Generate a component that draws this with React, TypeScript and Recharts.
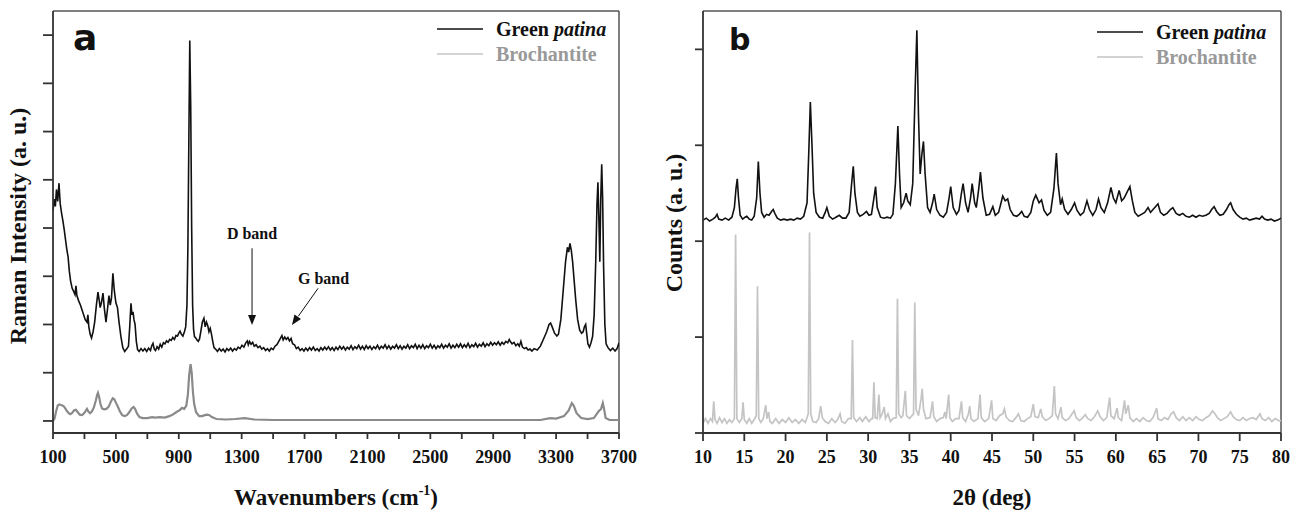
import { LineChart, Line, XAxis, YAxis, ReferenceLine, ReferenceDot } from 'recharts';

type Pt = [number, number];

// Raman spectrum, wavenumber (cm-1) vs intensity (a. u.)
const ramanPatina: Pt[] = [
  [100, 4.35], [108, 4.6], [115, 4.45], [122, 4.8], [130, 4.55], [138, 4.93], [146, 4.5], [155, 4.3],
  [163, 4.15], [172, 3.95], [180, 3.75], [188, 3.55], [196, 3.4], [204, 3.1], [212, 2.9], [222, 2.75],
  [232, 2.68], [240, 2.62], [246, 2.8], [252, 2.6], [262, 2.5], [275, 2.4], [290, 2.25], [305, 2.1],
  [316, 2.05], [322, 2.2], [328, 1.95], [336, 1.8], [345, 1.72], [355, 1.85], [365, 2.05], [376, 2.4],
  [386, 2.67], [394, 2.5], [400, 2.35], [408, 2.45], [418, 2.65], [426, 2.35], [437, 2.05], [446, 2.3],
  [456, 2.6], [464, 2.4], [472, 2.55], [481, 3.06], [490, 2.7], [500, 2.45], [510, 2.35], [520, 2.05],
  [532, 1.75], [544, 1.52], [556, 1.44], [568, 1.49], [580, 1.55], [588, 1.95], [596, 2.44], [602, 2.2],
  [609, 2.26], [615, 2.1], [622, 2.0], [630, 1.65], [638, 1.48], [648, 1.44], [660, 1.5], [672, 1.45],
  [684, 1.5], [696, 1.44], [708, 1.51], [720, 1.46], [728, 1.56], [736, 1.61], [744, 1.49], [752, 1.46],
  [762, 1.54], [772, 1.49], [782, 1.59], [792, 1.53], [802, 1.62], [812, 1.6], [822, 1.66], [832, 1.63],
  [842, 1.69], [852, 1.67], [862, 1.73], [872, 1.69], [882, 1.77], [892, 1.76], [900, 1.82], [908, 1.86],
  [916, 1.8], [926, 1.76], [936, 1.85], [944, 1.95], [952, 2.4], [958, 3.6], [964, 5.8], [970, 7.89],
  [976, 6.5], [982, 4.0], [988, 2.4], [994, 1.9], [1000, 1.75], [1008, 1.72], [1016, 1.68], [1024, 1.65],
  [1032, 1.7], [1040, 1.85], [1050, 2.05], [1060, 2.13], [1068, 1.95], [1076, 2.05], [1084, 1.98],
  [1092, 1.85], [1100, 1.92], [1108, 1.8], [1116, 1.65], [1124, 1.52], [1134, 1.49], [1146, 1.44],
  [1158, 1.5], [1170, 1.45], [1182, 1.49], [1194, 1.43], [1206, 1.5], [1218, 1.46], [1230, 1.51],
  [1242, 1.45], [1254, 1.5], [1266, 1.47], [1278, 1.53], [1290, 1.5], [1302, 1.57], [1314, 1.53],
  [1326, 1.62], [1336, 1.66], [1342, 1.58], [1350, 1.65], [1360, 1.59], [1370, 1.63], [1380, 1.55],
  [1392, 1.58], [1404, 1.52], [1416, 1.55], [1428, 1.49], [1440, 1.52], [1452, 1.46], [1464, 1.5],
  [1476, 1.45], [1488, 1.51], [1500, 1.48], [1512, 1.55], [1524, 1.58], [1536, 1.65], [1548, 1.72],
  [1556, 1.77], [1564, 1.68], [1574, 1.74], [1584, 1.69], [1594, 1.73], [1604, 1.66], [1614, 1.71],
  [1624, 1.6], [1636, 1.58], [1648, 1.5], [1660, 1.53], [1672, 1.46], [1684, 1.5], [1696, 1.45],
  [1708, 1.51], [1720, 1.46], [1732, 1.52], [1744, 1.47], [1756, 1.53], [1768, 1.46], [1780, 1.5],
  [1792, 1.45], [1804, 1.52], [1816, 1.47], [1828, 1.53], [1840, 1.48], [1852, 1.54], [1864, 1.47],
  [1876, 1.52], [1888, 1.46], [1900, 1.53], [1912, 1.48], [1924, 1.55], [1936, 1.49], [1948, 1.54],
  [1960, 1.47], [1972, 1.53], [1984, 1.49], [1996, 1.56], [2008, 1.48], [2020, 1.54], [2032, 1.5],
  [2044, 1.57], [2056, 1.49], [2068, 1.55], [2080, 1.48], [2092, 1.56], [2104, 1.5], [2116, 1.55],
  [2128, 1.48], [2140, 1.54], [2152, 1.5], [2164, 1.57], [2176, 1.49], [2188, 1.55], [2200, 1.51],
  [2212, 1.58], [2224, 1.5], [2236, 1.56], [2248, 1.49], [2260, 1.55], [2272, 1.51], [2284, 1.58],
  [2296, 1.5], [2308, 1.56], [2320, 1.49], [2332, 1.55], [2344, 1.51], [2356, 1.58], [2368, 1.5],
  [2380, 1.56], [2392, 1.52], [2404, 1.59], [2416, 1.5], [2428, 1.57], [2440, 1.51], [2452, 1.58],
  [2464, 1.5], [2476, 1.56], [2488, 1.52], [2500, 1.59], [2512, 1.51], [2524, 1.57], [2536, 1.5],
  [2548, 1.56], [2560, 1.52], [2572, 1.59], [2584, 1.51], [2596, 1.57], [2608, 1.53], [2620, 1.6],
  [2632, 1.51], [2644, 1.57], [2656, 1.52], [2668, 1.59], [2680, 1.53], [2692, 1.6], [2704, 1.52],
  [2716, 1.58], [2728, 1.53], [2740, 1.61], [2752, 1.52], [2764, 1.58], [2776, 1.54], [2788, 1.61],
  [2800, 1.53], [2812, 1.59], [2824, 1.55], [2836, 1.62], [2848, 1.54], [2860, 1.6], [2872, 1.56],
  [2884, 1.63], [2896, 1.57], [2908, 1.62], [2920, 1.58], [2932, 1.64], [2944, 1.57], [2956, 1.63],
  [2968, 1.59], [2980, 1.65], [2992, 1.62], [3002, 1.69], [3010, 1.64], [3020, 1.6], [3032, 1.63],
  [3044, 1.56], [3056, 1.6], [3066, 1.55], [3076, 1.65], [3086, 1.53], [3098, 1.5], [3110, 1.52],
  [3122, 1.47], [3134, 1.49], [3146, 1.45], [3160, 1.5], [3180, 1.47], [3200, 1.55], [3220, 1.7],
  [3240, 1.85], [3255, 2.0], [3265, 2.03], [3275, 1.95], [3290, 1.82], [3305, 1.76], [3315, 1.8],
  [3330, 2.1], [3345, 2.7], [3360, 3.3], [3372, 3.6], [3380, 3.5], [3388, 3.68], [3396, 3.55],
  [3405, 3.3], [3415, 2.9], [3425, 2.5], [3437, 2.1], [3450, 1.88], [3462, 1.82], [3472, 1.85],
  [3480, 1.95], [3488, 2.0], [3495, 1.8], [3502, 1.6], [3512, 1.53], [3522, 1.62], [3532, 1.75],
  [3542, 2.2], [3552, 3.3], [3560, 4.5], [3566, 4.95], [3572, 4.2], [3578, 3.3], [3584, 4.6],
  [3590, 5.32], [3596, 4.6], [3602, 3.2], [3610, 2.0], [3618, 1.6], [3630, 1.52], [3645, 1.46],
  [3660, 1.51], [3675, 1.45], [3688, 1.5], [3700, 1.62],
];

const ramanBrochantite: Pt[] = [
  [100, 0.0], [110, 0.05], [120, 0.2], [130, 0.32], [140, 0.34], [150, 0.33], [160, 0.32], [170, 0.3],
  [180, 0.25], [190, 0.2], [200, 0.16], [210, 0.14], [220, 0.16], [235, 0.22], [246, 0.23], [258, 0.18],
  [270, 0.13], [285, 0.12], [300, 0.17], [316, 0.25], [326, 0.19], [336, 0.16], [348, 0.2], [360, 0.28],
  [372, 0.42], [380, 0.53], [386, 0.58], [393, 0.5], [402, 0.35], [412, 0.26], [425, 0.24], [440, 0.25],
  [455, 0.3], [468, 0.4], [480, 0.47], [490, 0.45], [500, 0.38], [512, 0.3], [525, 0.2], [540, 0.12],
  [555, 0.1], [570, 0.12], [585, 0.18], [600, 0.26], [612, 0.29], [622, 0.25], [635, 0.15], [650, 0.08],
  [670, 0.06], [700, 0.06], [730, 0.08], [750, 0.07], [780, 0.08], [810, 0.07], [840, 0.1], [865, 0.14],
  [888, 0.19], [905, 0.22], [920, 0.27], [935, 0.25], [948, 0.32], [958, 0.55], [966, 0.95], [975, 1.18],
  [982, 1.0], [990, 0.6], [998, 0.35], [1010, 0.18], [1030, 0.1], [1050, 0.1], [1065, 0.12], [1080, 0.13],
  [1095, 0.12], [1110, 0.08], [1140, 0.04], [1200, 0.03], [1260, 0.04], [1320, 0.06], [1380, 0.03],
  [1500, 0.02], [1800, 0.02], [2200, 0.02], [2600, 0.02], [3000, 0.02], [3200, 0.02], [3262, 0.06],
  [3300, 0.05], [3350, 0.1], [3380, 0.22], [3400, 0.37], [3412, 0.32], [3430, 0.16], [3460, 0.06],
  [3500, 0.04], [3540, 0.06], [3560, 0.15], [3575, 0.22], [3585, 0.24], [3597, 0.37], [3605, 0.25],
  [3615, 0.06], [3640, 0.02], [3700, 0.02],
];

// XRD pattern, 2-theta (deg) vs counts (a. u.)
const xrdPatina: Pt[] = [
  [10.0, 2.22], [10.4, 2.24], [10.8, 2.21], [11.2, 2.23], [11.5, 2.25], [11.7, 2.28], [11.9, 2.23],
  [12.3, 2.22], [12.7, 2.24], [13.1, 2.22], [13.5, 2.25], [13.8, 2.35], [14.0, 2.55], [14.15, 2.65],
  [14.3, 2.45], [14.5, 2.27], [14.8, 2.23], [15.1, 2.25], [15.3, 2.26], [15.6, 2.23], [15.9, 2.22],
  [16.2, 2.26], [16.5, 2.45], [16.7, 2.83], [16.9, 2.5], [17.1, 2.3], [17.4, 2.25], [17.7, 2.28],
  [18.0, 2.27], [18.3, 2.31], [18.5, 2.33], [18.7, 2.29], [19.0, 2.24], [19.4, 2.22], [19.8, 2.23],
  [20.2, 2.22], [20.6, 2.23], [21.0, 2.22], [21.4, 2.24], [21.8, 2.23], [22.2, 2.26], [22.6, 2.4],
  [22.8, 2.9], [23.0, 3.45], [23.2, 3.0], [23.4, 2.5], [23.7, 2.3], [24.1, 2.25], [24.5, 2.24],
  [24.8, 2.3], [25.0, 2.35], [25.3, 2.26], [25.7, 2.23], [26.1, 2.25], [26.5, 2.27], [26.9, 2.24],
  [27.3, 2.24], [27.7, 2.3], [28.0, 2.6], [28.2, 2.78], [28.4, 2.5], [28.7, 2.3], [29.0, 2.26],
  [29.4, 2.28], [29.8, 2.31], [30.1, 2.27], [30.4, 2.28], [30.7, 2.45], [30.9, 2.57], [31.1, 2.35],
  [31.5, 2.25], [31.9, 2.24], [32.3, 2.25], [32.7, 2.24], [33.0, 2.28], [33.3, 2.6], [33.6, 3.2],
  [33.8, 2.7], [34.0, 2.35], [34.3, 2.4], [34.6, 2.5], [34.8, 2.42], [35.1, 2.38], [35.4, 2.6],
  [35.7, 3.6], [35.9, 4.2], [36.1, 3.3], [36.3, 2.7], [36.5, 2.9], [36.7, 3.04], [36.9, 2.7],
  [37.2, 2.35], [37.5, 2.3], [37.8, 2.4], [38.0, 2.49], [38.3, 2.33], [38.7, 2.27], [39.1, 2.25],
  [39.5, 2.3], [39.8, 2.45], [40.0, 2.57], [40.3, 2.35], [40.7, 2.28], [41.0, 2.32], [41.3, 2.5],
  [41.5, 2.6], [41.8, 2.4], [42.1, 2.3], [42.4, 2.45], [42.6, 2.6], [42.9, 2.4], [43.1, 2.35],
  [43.4, 2.55], [43.6, 2.72], [43.9, 2.45], [44.3, 2.27], [44.7, 2.28], [45.1, 2.36], [45.4, 2.27],
  [45.8, 2.3], [46.1, 2.4], [46.3, 2.47], [46.6, 2.42], [46.9, 2.44], [47.2, 2.33], [47.6, 2.27],
  [48.0, 2.26], [48.3, 2.28], [48.6, 2.31], [48.9, 2.26], [49.3, 2.25], [49.7, 2.3], [50.0, 2.42],
  [50.3, 2.48], [50.7, 2.4], [51.0, 2.43], [51.3, 2.32], [51.7, 2.27], [52.1, 2.3], [52.5, 2.55],
  [52.8, 2.92], [53.0, 2.6], [53.3, 2.38], [53.5, 2.44], [53.8, 2.33], [54.2, 2.28], [54.6, 2.33],
  [55.0, 2.4], [55.3, 2.32], [55.7, 2.27], [56.1, 2.3], [56.5, 2.42], [56.8, 2.33], [57.2, 2.27],
  [57.6, 2.33], [57.9, 2.44], [58.2, 2.35], [58.6, 2.3], [59.0, 2.4], [59.4, 2.56], [59.7, 2.45],
  [60.0, 2.4], [60.4, 2.53], [60.7, 2.42], [61.0, 2.45], [61.3, 2.5], [61.7, 2.57], [62.0, 2.42],
  [62.3, 2.3], [62.7, 2.26], [63.1, 2.28], [63.5, 2.3], [63.9, 2.35], [64.2, 2.3], [64.5, 2.33],
  [64.8, 2.36], [65.1, 2.39], [65.4, 2.3], [65.8, 2.27], [66.2, 2.29], [66.6, 2.33], [66.9, 2.35],
  [67.3, 2.29], [67.7, 2.27], [68.1, 2.29], [68.5, 2.26], [68.9, 2.25], [69.3, 2.27], [69.7, 2.25],
  [70.1, 2.27], [70.5, 2.26], [70.9, 2.27], [71.3, 2.29], [71.6, 2.33], [71.9, 2.36], [72.2, 2.31],
  [72.6, 2.27], [73.0, 2.28], [73.4, 2.33], [73.7, 2.38], [73.9, 2.4], [74.2, 2.33], [74.6, 2.28],
  [75.0, 2.25], [75.4, 2.23], [75.8, 2.24], [76.2, 2.22], [76.6, 2.23], [77.0, 2.24], [77.4, 2.23],
  [77.7, 2.26], [78.0, 2.23], [78.4, 2.22], [78.8, 2.23], [79.2, 2.21], [79.6, 2.22], [80.0, 2.24],
];

const xrdBrochantite: Pt[] = [
  [10.0, 0.1], [10.3, 0.15], [10.6, 0.1], [10.9, 0.15], [11.15, 0.12], [11.3, 0.33], [11.45, 0.14],
  [11.7, 0.1], [12.0, 0.16], [12.3, 0.11], [12.6, 0.15], [12.9, 0.1], [13.2, 0.14], [13.5, 0.11],
  [13.8, 0.15], [13.95, 2.07], [14.1, 0.15], [14.4, 0.11], [14.7, 0.15], [14.85, 0.32], [15.0, 0.14],
  [15.3, 0.1], [15.6, 0.15], [15.9, 0.1], [16.2, 0.14], [16.45, 0.18], [16.6, 1.53], [16.75, 0.15],
  [17.0, 0.11], [17.3, 0.15], [17.6, 0.29], [17.75, 0.15], [17.95, 0.22], [18.1, 0.12], [18.4, 0.1],
  [18.8, 0.15], [19.2, 0.1], [19.6, 0.14], [20.0, 0.11], [20.4, 0.16], [20.8, 0.11], [21.2, 0.14],
  [21.6, 0.1], [22.0, 0.14], [22.4, 0.11], [22.75, 0.2], [22.9, 2.09], [23.05, 0.2], [23.3, 0.12],
  [23.7, 0.11], [24.0, 0.15], [24.25, 0.28], [24.45, 0.16], [24.8, 0.12], [25.2, 0.1], [25.6, 0.15],
  [26.0, 0.11], [26.3, 0.14], [26.6, 0.2], [26.8, 0.12], [27.2, 0.1], [27.6, 0.15], [27.95, 0.15],
  [28.1, 0.97], [28.25, 0.16], [28.6, 0.12], [29.0, 0.16], [29.3, 0.12], [29.7, 0.17], [30.1, 0.12],
  [30.4, 0.15], [30.55, 0.15], [30.7, 0.53], [30.85, 0.16], [31.1, 0.15], [31.3, 0.4], [31.45, 0.16],
  [31.7, 0.2], [31.95, 0.27], [32.1, 0.15], [32.4, 0.2], [32.7, 0.12], [33.0, 0.15], [33.4, 0.16],
  [33.55, 1.4], [33.7, 0.2], [34.0, 0.16], [34.2, 0.18], [34.5, 0.44], [34.65, 0.18], [35.0, 0.15],
  [35.5, 0.2], [35.65, 1.36], [35.8, 0.25], [36.1, 0.18], [36.4, 0.35], [36.55, 0.46], [36.7, 0.25],
  [37.0, 0.15], [37.5, 0.16], [37.8, 0.33], [37.95, 0.17], [38.3, 0.12], [38.7, 0.15], [39.1, 0.16],
  [39.3, 0.22], [39.45, 0.15], [39.75, 0.4], [39.9, 0.16], [40.2, 0.12], [40.6, 0.15], [41.0, 0.15],
  [41.3, 0.33], [41.45, 0.16], [41.8, 0.12], [42.15, 0.2], [42.3, 0.28], [42.45, 0.15], [42.8, 0.12],
  [43.3, 0.15], [43.55, 0.4], [43.7, 0.16], [44.1, 0.12], [44.6, 0.15], [44.95, 0.34], [45.1, 0.15],
  [45.5, 0.13], [45.9, 0.18], [46.3, 0.2], [46.5, 0.25], [46.7, 0.17], [47.1, 0.13], [47.5, 0.12],
  [47.9, 0.16], [48.2, 0.2], [48.5, 0.13], [48.9, 0.12], [49.3, 0.15], [49.7, 0.17], [50.0, 0.3],
  [50.2, 0.17], [50.6, 0.16], [50.9, 0.25], [51.1, 0.17], [51.5, 0.13], [51.9, 0.15], [52.3, 0.18],
  [52.55, 0.49], [52.7, 0.2], [53.0, 0.15], [53.35, 0.27], [53.5, 0.16], [53.9, 0.13], [54.3, 0.15],
  [54.7, 0.2], [54.95, 0.23], [55.2, 0.16], [55.6, 0.13], [56.0, 0.16], [56.3, 0.19], [56.6, 0.15],
  [57.0, 0.13], [57.4, 0.17], [57.8, 0.23], [58.1, 0.17], [58.5, 0.13], [58.9, 0.16], [59.25, 0.37],
  [59.4, 0.18], [59.8, 0.15], [60.15, 0.26], [60.3, 0.16], [60.7, 0.13], [61.05, 0.34], [61.2, 0.2],
  [61.5, 0.29], [61.7, 0.16], [62.1, 0.12], [62.5, 0.15], [62.9, 0.12], [63.3, 0.16], [63.7, 0.13],
  [64.1, 0.12], [64.5, 0.16], [64.95, 0.26], [65.1, 0.15], [65.5, 0.13], [65.9, 0.16], [66.3, 0.14],
  [66.7, 0.2], [67.0, 0.22], [67.3, 0.16], [67.7, 0.13], [68.1, 0.17], [68.5, 0.13], [68.9, 0.16],
  [69.3, 0.13], [69.7, 0.17], [70.1, 0.14], [70.5, 0.13], [70.9, 0.16], [71.3, 0.18], [71.7, 0.23],
  [72.0, 0.2], [72.3, 0.16], [72.7, 0.13], [73.1, 0.15], [73.5, 0.17], [73.9, 0.22], [74.2, 0.17],
  [74.6, 0.14], [75.0, 0.13], [75.4, 0.16], [75.8, 0.13], [76.2, 0.15], [76.6, 0.16], [77.0, 0.14],
  [77.45, 0.2], [77.7, 0.15], [78.1, 0.13], [78.5, 0.16], [78.9, 0.12], [79.3, 0.15], [79.7, 0.13],
  [80.0, 0.13],
];

const ramanXTicks = [100, 300, 500, 700, 900, 1100, 1300, 1500, 1700, 1900, 2100, 2300, 2500, 2700, 2900, 3100, 3300, 3500, 3700];
const ramanYTicks = [0, 1, 2, 3, 4, 5, 6, 7, 8];
const xrdXTicks = [10, 15, 20, 25, 30, 35, 40, 45, 50, 55, 60, 65, 70, 75, 80];
const xrdYTicks = [0, 1, 2, 3, 4];

const toRows = (pts: Pt[]) => pts.map(([x, y]) => ({ x, y }));

const SERIF = '"Liberation Serif", "Times New Roman", serif';
const tickFont = { fill: '#111', fontSize: 18, fontWeight: 'bold', fontFamily: SERIF };
const axisStroke = '#333';
const frameStroke = '#555';

const Arrowhead = ({ cx, cy, angle }: any) => (
  <polygon points="0,0 -10,-4 -10,4" transform={`translate(${cx},${cy}) rotate(${angle})`} fill="#111" />
);

function RamanChart() {
  return (
    <LineChart width={650} height={518} margin={{ top: 11, right: 31, bottom: 55, left: 0 }}>
      <XAxis
        type="number"
        dataKey="x"
        domain={[100, 3700]}
        ticks={ramanXTicks}
        allowDataOverflow
        height={30}
        tickSize={6}
        tickMargin={11}
        tick={tickFont}
        tickFormatter={(v) => ((v - 100) % 400 === 0 ? String(v) : '')}
        stroke={axisStroke}
        strokeWidth={1.8}
      />
      <YAxis
        type="number"
        domain={[-0.25, 8.5]}
        ticks={ramanYTicks}
        allowDataOverflow
        width={53}
        tickSize={10}
        tickFormatter={() => ''}
        stroke={axisStroke}
        strokeWidth={1.8}
      />
      <ReferenceLine y={8.5} stroke={frameStroke} strokeWidth={1.5} />
      <ReferenceLine x={3700} stroke={frameStroke} strokeWidth={1.5} />
      <Line data={toRows(ramanBrochantite)} dataKey="y" type="linear" stroke="#8a8a8a" strokeWidth={2.2} dot={false} isAnimationActive={false} />
      <Line data={toRows(ramanPatina)} dataKey="y" type="linear" stroke="#111" strokeWidth={1.6} dot={false} isAnimationActive={false} />
      {/* D band / G band arrows */}
      <ReferenceLine segment={[{ x: 1366, y: 3.58 }, { x: 1366, y: 2.15 }]} stroke="#111" strokeWidth={1} />
      <ReferenceDot x={1366} y={1.99} r={1} shape={(p: any) => <Arrowhead {...p} angle={90} />} />
      <ReferenceLine segment={[{ x: 1786, y: 2.75 }, { x: 1660, y: 2.17 }]} stroke="#111" strokeWidth={1} />
      <ReferenceDot x={1620} y={1.99} r={1} shape={(p: any) => <Arrowhead {...p} angle={125} />} />
    </LineChart>
  );
}

function XrdChart() {
  return (
    <LineChart width={657} height={518} margin={{ top: 11, right: 26, bottom: 55, left: 0 }}>
      <XAxis
        type="number"
        dataKey="x"
        domain={[10, 80]}
        ticks={xrdXTicks}
        allowDataOverflow
        height={30}
        tickSize={8}
        tickMargin={9}
        tick={tickFont}
        stroke={axisStroke}
        strokeWidth={1.8}
      />
      <YAxis
        type="number"
        domain={[0, 4.4]}
        ticks={xrdYTicks}
        allowDataOverflow
        width={53}
        tickSize={8}
        tickFormatter={() => ''}
        stroke={axisStroke}
        strokeWidth={1.8}
      />
      <ReferenceLine y={4.4} stroke={frameStroke} strokeWidth={1.5} />
      <ReferenceLine x={80} stroke={frameStroke} strokeWidth={1.5} />
      <Line data={toRows(xrdBrochantite)} dataKey="y" type="linear" stroke="#c4c4c4" strokeWidth={1.7} dot={false} isAnimationActive={false} />
      <Line data={toRows(xrdPatina)} dataKey="y" type="linear" stroke="#111" strokeWidth={1.6} dot={false} isAnimationActive={false} />
    </LineChart>
  );
}

function LegendBlock({ x, y }: { x: number; y: number }) {
  return (
    <g fontFamily={SERIF} fontWeight="bold" fontSize={20}>
      <line x1={x} x2={x + 46} y1={y} y2={y} stroke="#111" strokeWidth={1.5} />
      <text x={x + 59} y={y + 7} fill="#111">
        Green <tspan fontStyle="italic">patina</tspan>
      </text>
      <line x1={x} x2={x + 46} y1={y + 25} y2={y + 25} stroke="#c4c4c4" strokeWidth={1.5} />
      <text x={x + 59} y={y + 32} fill="#999">Brochantite</text>
    </g>
  );
}

export default function App() {
  return (
    <div style={{ position: 'absolute', left: 0, top: 0, width: 1307, height: 518, background: '#fff' }}>
      <div style={{ position: 'absolute', left: 0, top: 0 }}>
        <RamanChart />
      </div>
      <div style={{ position: 'absolute', left: 650, top: 0 }}>
        <XrdChart />
      </div>
      <svg width={1307} height={518} style={{ position: 'absolute', left: 0, top: 0, pointerEvents: 'none' }}>
        <text x={73} y={50} fontFamily='"DejaVu Sans", sans-serif' fontWeight="bold" fontSize={36} fill="#111">a</text>
        <text x={729} y={50} fontFamily='"DejaVu Sans", sans-serif' fontWeight="bold" fontSize={30} fill="#111">b</text>

        <LegendBlock x={437} y={29} />
        <LegendBlock x={1097} y={32} />

        <g fontFamily={SERIF} fontWeight="bold" fontSize={16} fill="#111">
          <text x={252} y={239} textAnchor="middle">D band</text>
          <text x={298} y={284}>G band</text>
        </g>

        <g fontFamily={SERIF} fontWeight="bold" fill="#111">
          <text x={336} y={505} fontSize={23} textAnchor="middle">
            Wavenumbers (cm<tspan fontSize={14} dy={-10}>-1</tspan><tspan dy={10}>)</tspan>
          </text>
          <text x={992} y={505} fontSize={23} textAnchor="middle">2θ (deg)</text>
          <text x={26} y={226} fontSize={24} textAnchor="middle" transform="rotate(-90 26 226)">
            Raman Intensity (a. u.)
          </text>
          <text x={682} y={223} fontSize={24} textAnchor="middle" transform="rotate(-90 682 223)">
            Counts (a. u.)
          </text>
        </g>
      </svg>
    </div>
  );
}
